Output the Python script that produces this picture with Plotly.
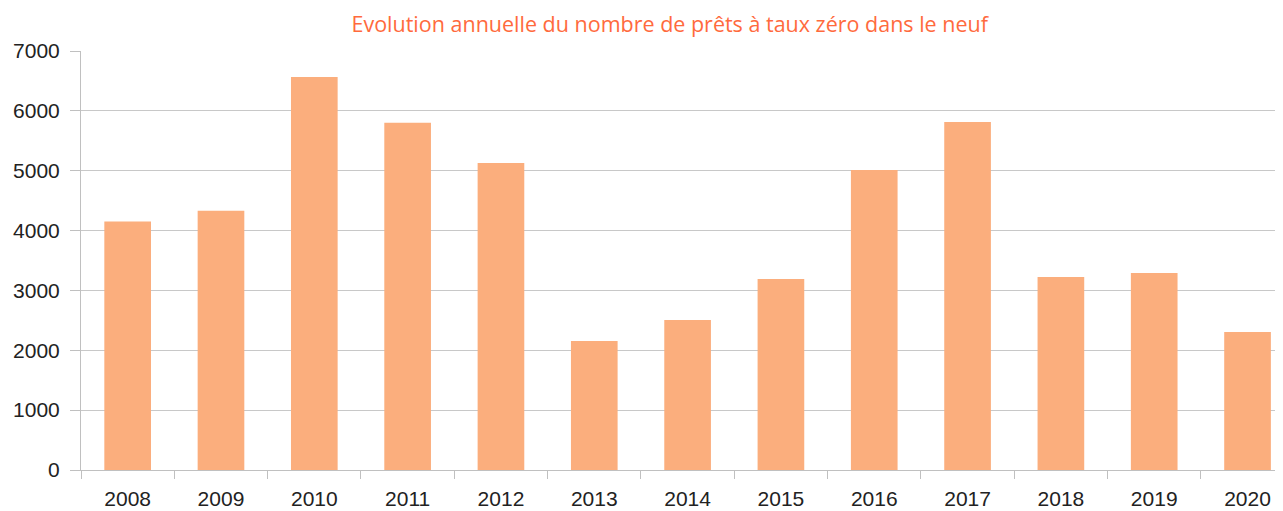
import plotly.graph_objects as go

years = ["2008", "2009", "2010", "2011", "2012", "2013", "2014", "2015", "2016", "2017", "2018", "2019", "2020"]
loans = [4150, 4330, 6565, 5800, 5130, 2155, 2505, 3190, 5010, 5815, 3225, 3290, 2305]
y_ticks = [0, 1000, 2000, 3000, 4000, 5000, 6000, 7000]
title_text = "Evolution annuelle du nombre de prêts à taux zéro dans le neuf"

fig = go.Figure(go.Bar(x=years, y=loans, marker=dict(color="#fbae7d", line=dict(width=0)), width=0.5))

fig.update_layout(
    width=1275, height=503,
    margin=dict(l=73, r=0, t=43, b=41),
    plot_bgcolor="white", paper_bgcolor="white",
    showlegend=False,
    title=dict(text=title_text, x=0.519, xanchor="center", y=0.968, yanchor="middle",
               font=dict(family="Open Sans", size=21.5, color="#ff6a3d")),
    font=dict(family="Liberation Sans", size=21, color="#222222"),
)
fig.update_xaxes(type="category", range=[-0.5, 12.38], tickson="boundaries", ticks="outside",
                 ticklen=8, tickcolor="#c0c0c0", tickwidth=1, showline=True, linecolor="#c0c0c0",
                 showgrid=False, tickfont=dict(size=21), ticklabelstandoff=10)
fig.update_yaxes(range=[0, 7000], tickvals=y_ticks, ticks="outside", ticklen=10, tickcolor="#c0c0c0",
                 showline=True, linecolor="#c0c0c0", gridcolor="#c8c8c8", zeroline=False,
                 tickfont=dict(size=21), ticklabelstandoff=6)

fig.write_html("out.html")
